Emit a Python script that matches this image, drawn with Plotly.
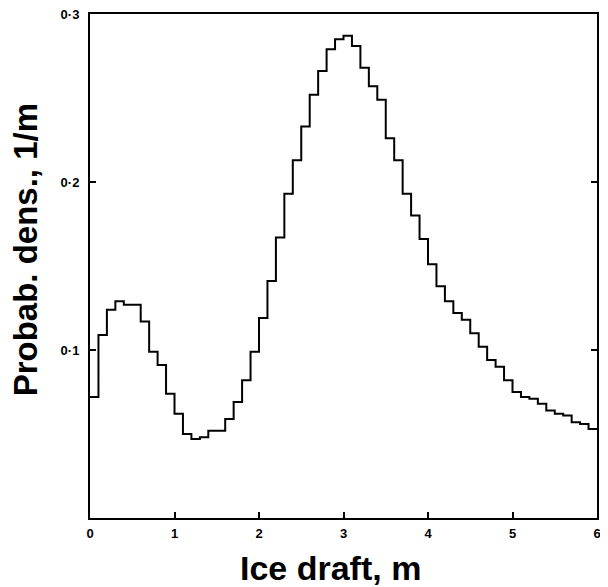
import numpy as np
import plotly.graph_objects as go

# Histogram of ice draft (bin width 0.1 m, 0 - 6 m)
bin_width = 0.1
density = [
    0.072, 0.109, 0.124, 0.129, 0.127, 0.127, 0.117, 0.099, 0.091, 0.074,
    0.062, 0.050, 0.047, 0.048, 0.052, 0.052, 0.059, 0.069, 0.082, 0.099,
    0.119, 0.141, 0.167, 0.193, 0.213, 0.233, 0.252, 0.266, 0.279, 0.285,
    0.287, 0.281, 0.268, 0.257, 0.249, 0.226, 0.213, 0.193, 0.180, 0.166,
    0.151, 0.138, 0.129, 0.122, 0.118, 0.110, 0.102, 0.094, 0.090, 0.082,
    0.075, 0.072, 0.071, 0.068, 0.064, 0.062, 0.061, 0.057, 0.056, 0.053,
]
x_tickvals = [0, 1, 2, 3, 4, 5, 6]
x_ticktext = ["0", "1", "2", "3", "4", "5", "6"]
y_tickvals = [0.1, 0.2, 0.3]
y_ticktext = ["0·1", "0·2", "0·3"]
x_title = "Ice draft, m"
y_title = "Probab. dens., 1/m"

edges = np.round(np.arange(len(density) + 1) * bin_width, 3)
y_step = density + [density[-1]]

font = "Liberation Sans, Arial, sans-serif"

fig = go.Figure()
fig.add_trace(go.Scatter(
    x=edges, y=y_step, mode="lines", line_shape="hv",
    line=dict(color="black", width=2), showlegend=False, hoverinfo="skip",
))

fig.update_layout(
    width=600, height=579,
    margin=dict(l=82, r=11, t=6, b=69, autoexpand=False),
    paper_bgcolor="white", plot_bgcolor="white",
    font=dict(family=font, color="black"),
)
fig.update_xaxes(
    range=[0, 6], tickvals=x_tickvals, ticktext=x_ticktext,
    ticks="inside", ticklen=6, tickwidth=1.5, tickcolor="black",
    showline=True, linecolor="black", linewidth=2, mirror=True,
    showgrid=False, zeroline=False, automargin=False,
    tickfont=dict(size=13, family=font, weight="bold"),
    ticklabelstandoff=2, ticklabeloverflow="allow",
)
fig.update_yaxes(
    range=[0, 0.3], tickvals=y_tickvals, ticktext=y_ticktext,
    ticks="inside", ticklen=6, tickwidth=1.5, tickcolor="black",
    showline=True, linecolor="black", linewidth=2, mirror="allticks",
    showgrid=False, zeroline=False, automargin=False,
    tickfont=dict(size=13, family=font, weight="bold"),
    ticklabelstandoff=6, ticklabeloverflow="allow",
)

fig.add_annotation(
    text="<b>" + x_title + "</b>", xref="paper", yref="paper",
    x=0.475, y=0, xanchor="center", yanchor="top", yshift=-29,
    showarrow=False, font=dict(size=34, family=font, color="black"),
)
fig.add_annotation(
    text="<b>" + y_title + "</b>", xref="paper", yref="paper",
    x=0, y=0.532, xanchor="right", yanchor="middle", xshift=-44,
    textangle=-90, showarrow=False, font=dict(size=33, family=font, color="black"),
)

fig.write_html("out.html")
